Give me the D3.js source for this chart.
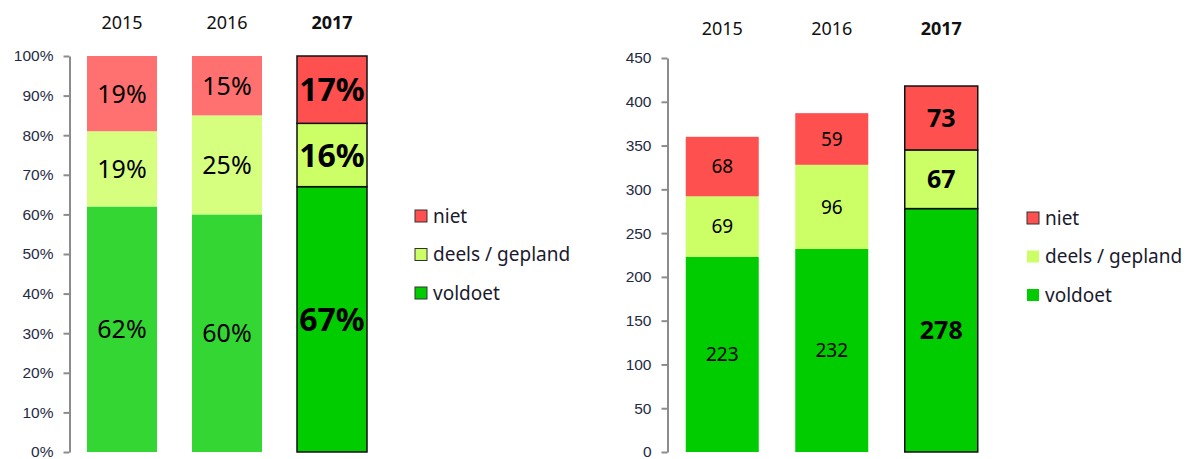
<!DOCTYPE html>
<html>
<head>
<meta charset="utf-8">
<script src="https://cdn.jsdelivr.net/npm/d3@7/dist/d3.min.js"></script>
<style>
    body { margin: 0; background: #fff; }
    svg { display: block; font-family: 'Noto Sans', 'Open Sans', sans-serif; }
    .axis path, .axis line { stroke: #8c8c8c; stroke-width: 2; }
    .axis text { fill: #1f2a44; font-size: 15.5px; }
</style>
</head>
<body>
<svg id="chart" width="1190" height="459"></svg>
<script>
'use strict';

// data
var years = ['2015', '2016', '2017'];
var seriesNames = ['voldoet', 'deels / gepland', 'niet'];

var pctVoldoet = [62, 60, 67];
var pctDeels = [19, 25, 16];
var pctNiet = [19, 15, 17];

var cntVoldoet = [223, 232, 278];
var cntDeels = [69, 96, 67];
var cntNiet = [68, 59, 73];

var pctTicks = [0, 10, 20, 30, 40, 50, 60, 70, 80, 90, 100];
var cntTicks = [0, 50, 100, 150, 200, 250, 300, 350, 400, 450];

// colours: the bold (current) palette and the faded one for older years
var strongColors = ['#00cc00', '#ccff66', '#ff5050'];
var paleColors = ['#33d633', '#d6ff80', '#ff7070'];

var svg = d3.select('#chart');

var drawChart = function (opts) {
    var g = svg.append('g');

    var y = d3.scaleLinear()
        .domain([0, opts.max])
        .range([452, opts.top]);

    var x = d3.scaleBand()
        .domain(years)
        .range([opts.left, opts.left + opts.step * 3])
        .paddingInner(1 / 3)
        .paddingOuter(1 / 6);

    // stack the three series per year
    var rows = years.map(function (yr, i) {
        return { year: yr, voldoet: opts.values[0][i], deels: opts.values[1][i], niet: opts.values[2][i] };
    });
    var stack = d3.stack().keys(['voldoet', 'deels', 'niet']);
    var layers = stack(rows);

    layers.forEach(function (layer, k) {
        var sel = g.selectAll('.seg-' + k)
            .data(layer)
            .enter();

        sel.append('rect')
            .attr('class', 'seg-' + k)
            .attr('x', function (d) { return x(d.data.year); })
            .attr('width', x.bandwidth())
            .attr('y', function (d) { return y(d[1]); })
            .attr('height', function (d) { return y(d[0]) - y(d[1]); })
            .attr('fill', function (d) {
                var pale = opts.palePast && d.data.year !== '2017';
                return pale ? paleColors[k] : strongColors[k];
            })
            .attr('stroke', function (d) { return d.data.year === '2017' ? '#111' : 'none'; })
            .attr('stroke-width', 1.5);

        sel.append('text')
            .attr('x', function (d) { return x(d.data.year) + x.bandwidth() / 2; })
            .attr('y', function (d) { return (y(d[0]) + y(d[1])) / 2; })
            .attr('dy', '0.36em')
            .attr('text-anchor', 'middle')
            .attr('fill', '#000')
            .style('font-size', function (d) { return d.data.year === '2017' ? opts.boldSize : opts.labelSize; })
            .style('font-weight', function (d) { return d.data.year === '2017' ? 'bold' : 'normal'; })
            .text(function (d) { return (d[1] - d[0]) + opts.suffix; });
    });

    // year headers
    g.selectAll('.year')
        .data(years)
        .enter()
        .append('text')
        .attr('class', 'year')
        .attr('x', function (d) { return x(d) + x.bandwidth() / 2; })
        .attr('y', opts.yearY)
        .attr('text-anchor', 'middle')
        .attr('fill', '#111')
        .style('font-size', '18px')
        .style('font-weight', function (d) { return d === '2017' ? 'bold' : 'normal'; })
        .text(function (d) { return d; });

    // y axis
    g.append('g')
        .attr('class', 'axis')
        .attr('transform', 'translate(' + opts.left + ',0)')
        .call(d3.axisLeft(y)
            .tickValues(opts.ticks)
            .tickFormat(function (d) { return d + opts.suffix; })
            .tickSize(6)
            .tickSizeOuter(0)
            .tickPadding(10));

    // legend, niet on top
    var legend = g.append('g')
        .attr('transform', 'translate(' + opts.legendX + ',0)');
    [2, 1, 0].forEach(function (k, i) {
        var ly = opts.legendY + i * 38.5;
        legend.append('rect')
            .attr('x', 0)
            .attr('y', ly - 6)
            .attr('width', 12)
            .attr('height', 12)
            .attr('fill', strongColors[k])
            .attr('stroke', opts.legendStroke[k] ? '#333' : 'none')
            .attr('stroke-width', 1);
        legend.append('text')
            .attr('x', 18)
            .attr('y', ly)
            .attr('dy', '0.36em')
            .attr('fill', '#1a1a2e')
            .style('font-size', '19px')
            .text(seriesNames[k]);
    });
};

drawChart({
    values: [pctVoldoet, pctDeels, pctNiet],
    max: 100,
    top: 56,
    left: 69.5,
    step: 105,
    ticks: pctTicks,
    suffix: '%',
    palePast: true,
    labelSize: '25px',
    boldSize: '32px',
    yearY: 29,
    legendX: 415,
    legendY: 216,
    legendStroke: [true, true, true]
});

drawChart({
    values: [cntVoldoet, cntDeels, cntNiet],
    max: 450,
    top: 58,
    left: 667.5,
    step: 109.5,
    ticks: cntTicks,
    suffix: '',
    palePast: false,
    labelSize: '19px',
    boldSize: '25px',
    yearY: 35,
    legendX: 1027,
    legendY: 218,
    legendStroke: [false, false, true]
});
</script>
</body>
</html>
